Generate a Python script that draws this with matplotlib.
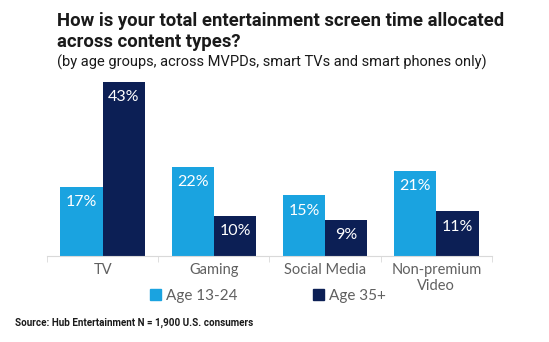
import matplotlib
matplotlib.use('Agg')
import numpy as np
from matplotlib import pyplot as plt
from matplotlib.patches import Patch

# Screen time share by content type (%)
categories = ['TV', 'Gaming', 'Social Media', 'Non-premium\nVideo']
age_13_24 = [17, 22, 15, 21]
age_35_plus = [43, 10, 9, 11]
series_names = ['Age 13-24', 'Age 35+']

light_blue = '#1aa3e0'
navy = '#0c1f55'
grey = '#606060'

fig = plt.figure(figsize=(5.49, 3.42), dpi=100)
ax = fig.add_axes([0.0856, 0.2515, 0.8105, 0.5325])

x = np.arange(len(categories))
w = 0.38
b1 = ax.bar(x - w / 2, age_13_24, w, color=light_blue)
b2 = ax.bar(x + w / 2, age_35_plus, w, color=navy)

# value labels sit inside the top of each bar
for bars, vals in ((b1, age_13_24), (b2, age_35_plus)):
    for bar, v in zip(bars, vals):
        ax.annotate('%d%%' % v, (bar.get_x() + bar.get_width() / 2, v),
                    xytext=(0, -11), textcoords='offset points',
                    ha='center', va='center', color='white', fontsize=11.5,
                    family='Lato')

ax.set_xlim(-0.5, len(categories) - 0.5)
ax.set_ylim(0, 45)
ax.set_yticks([])
ax.set_xticks(x)
ax.set_xticklabels(categories, color=grey, fontsize=10.5, family='Lato',
                   linespacing=1.15)
ax.tick_params(axis='x', which='major', length=0, pad=5)
ax.set_xticks(np.arange(-0.5, len(categories), 1.0), minor=True)
ax.tick_params(axis='x', which='minor', length=4, color='#d9d9d9')
for side in ('top', 'right', 'left'):
    ax.spines[side].set_visible(False)
ax.spines['bottom'].set_color('#d9d9d9')

handles = [Patch(color=light_blue), Patch(color=navy)]
fig.legend(handles, series_names, loc='center', bbox_to_anchor=(0.488, 0.135),
           ncol=2, frameon=False, handlelength=0.7, handleheight=0.7,
           handletextpad=0.3, columnspacing=5.0,
           prop={'family': 'Lato', 'size': 11}, labelcolor=grey)

fig.text(0.104, 0.908, 'How is your total entertainment screen time allocated\n'
         'across content types?', fontsize=13.3, fontweight='bold',
         family='Roboto', color='#1a1a1a', va='center', linespacing=1.25)
fig.text(0.104, 0.819, '(by age groups, across MVPDs, smart TVs and smart phones only)',
         fontsize=10.5, family='Roboto', color='#1a1a1a', va='center')
fig.text(0.027, 0.055, 'Source: Hub Entertainment N = 1,900 U.S. consumers',
         fontsize=7.1, fontweight='bold', family='Roboto', color='#1a1a1a',
         va='center')

fig.savefig('out.png', dpi=100)
